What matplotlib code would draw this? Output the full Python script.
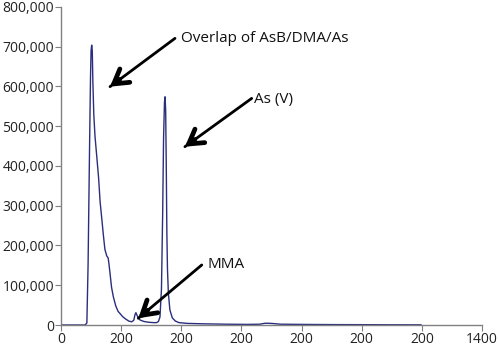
import matplotlib
matplotlib.use('Agg')
import matplotlib.pyplot as plt
import numpy as np

plt.rcParams['font.family'] = ['Open Sans', 'DejaVu Sans']

# chromatogram trace: retention time vs intensity
rt = [0, 80, 86, 90, 95, 98, 100, 102, 104, 106, 109, 113, 119, 125, 130, 135,
      141, 146, 152, 157, 160, 163, 168, 174, 182, 190, 196, 205, 215, 225, 235,
      242, 246, 249, 253, 258, 263, 275, 290, 307, 318, 324, 329, 334, 338, 341,
      344, 346, 348, 350, 352, 354, 357, 362, 370, 380, 392, 420, 470, 550, 620,
      660, 680, 700, 730, 800, 900, 1000, 1100, 1197]
intensity = [0, 0, 5000, 150000, 450000, 620000, 690000, 704000, 690000, 610000,
             530000, 475000, 423000, 370000, 310000, 272000, 225000, 190000,
             174000, 168000, 150000, 130000, 95000, 71000, 48000, 34000, 29000,
             21000, 15000, 10000, 8000, 12000, 26000, 31000, 24000, 17000, 12500,
             9000, 7000, 6000, 6000, 9000, 20000, 90000, 280000, 470000, 560000,
             574000, 540000, 400000, 230000, 140000, 80000, 38000, 18000, 10000,
             6000, 4000, 3000, 2000, 1500, 2000, 4500, 4000, 2000, 1500, 1000,
             800, 500, 400]

xticks = [0, 200, 400, 600, 800, 1000, 1200, 1400]
xtick_labels = ['0', '200', '200', '200', '200', '200', '200', '1400']
yticks = [0, 100000, 200000, 300000, 400000, 500000, 600000, 700000, 800000]

# label text, text position, arrow tail, arrow tip
labels = ['Overlap of AsB/DMA/As', 'As (V)', 'MMA']
label_xy = [(398, 721000), (642, 566000), (487, 151000)]
arrow_tail = [(379, 721000), (634, 570000), (468, 151000)]
arrow_tip = [(163, 599500), (412, 448500), (257, 17000)]

fig = plt.figure(figsize=(4.98, 3.47), dpi=100)
ax = fig.add_axes([0.1225, 0.0634, 0.8455, 0.9166])

ax.plot(rt, intensity, color='#2a2e7d', lw=1.0)

ax.set_xlim(0, 1400)
ax.set_ylim(0, 800000)
ax.set_xticks(xticks)
ax.set_xticklabels(xtick_labels)
ax.set_yticks(yticks)
ax.set_yticklabels(['{:,}'.format(v) for v in yticks])

for s in ['top', 'right']:
    ax.spines[s].set_visible(False)
for s in ['left', 'bottom']:
    ax.spines[s].set_color('#808080')
    ax.spines[s].set_linewidth(1.0)
ax.tick_params(axis='both', colors='#808080', labelcolor='#222222',
               labelsize=10, length=4, direction='out', pad=1)

for txt, pos, tail, tip in zip(labels, label_xy, arrow_tail, arrow_tip):
    ax.text(pos[0], pos[1], txt, fontsize=11, color='#111111',
            ha='left', va='center')
    # thin shaft
    ax.annotate('', xy=tip, xytext=tail,
                arrowprops=dict(arrowstyle='-', lw=2.0, color='black',
                                shrinkA=0, shrinkB=0))
    # heavier open head on a short piece near the tip
    near = (tip[0] + 0.15 * (tail[0] - tip[0]), tip[1] + 0.15 * (tail[1] - tip[1]))
    ax.annotate('', xy=tip, xytext=near,
                arrowprops=dict(arrowstyle='->,head_length=1.0,head_width=0.6',
                                lw=3.4, color='black', shrinkA=0, shrinkB=0))

fig.savefig('out.png', dpi=100)
